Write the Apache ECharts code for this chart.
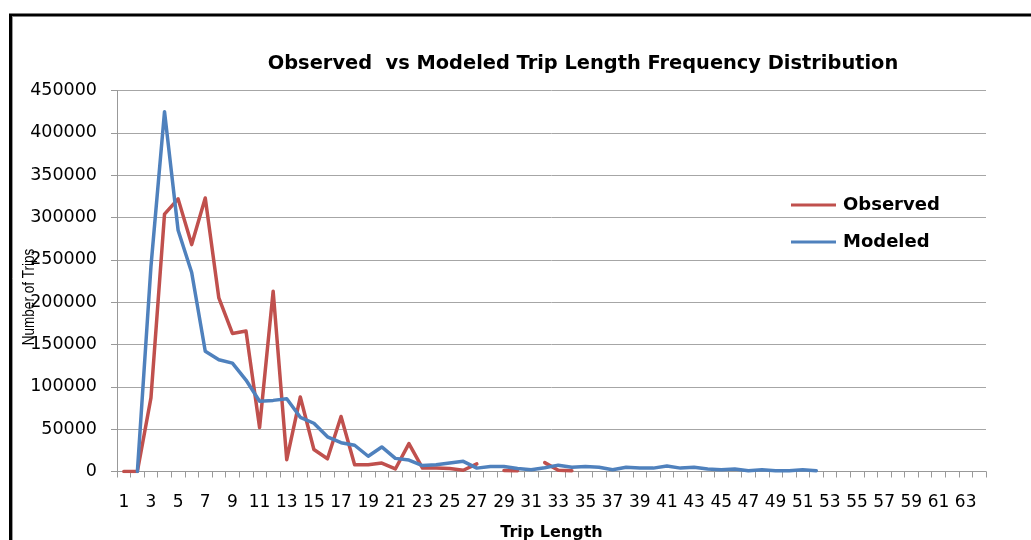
<!DOCTYPE html>
<html>
<head>
<meta charset="utf-8">
<script src="https://cdn.jsdelivr.net/npm/echarts@6/dist/echarts.min.js"></script>
<style>
  html, body { margin: 0; padding: 0; background: #fff; }
  #chart { width: 1031px; height: 540px; }
</style>
</head>
<body>
<div id="chart"></div>
<script>
// Trip length bins (miles)
const tripLength = ['1','2','3','4','5','6','7','8','9','10','11','12','13','14','15','16',
  '17','18','19','20','21','22','23','24','25','26','27','28','29','30','31','32',
  '33','34','35','36','37','38','39','40','41','42','43','44','45','46','47','48',
  '49','50','51','52','53','54','55','56','57','58','59','60','61','62','63','64'];

// Observed trips per bin (survey); empty bins are left as gaps
const observed = [0, 0, 87000, 304000, 322000, 268000, 323000, 205000,
  163000, 166000, 52000, 213000, 14000, 88000, 26000, 15000,
  65000, 8000, 8000, 10000, 3000, 33000, 4000, 4000,
  3500, 1500, 9000, null, 1200, 1000, null, 10500,
  1500, 1000, null, null, null, null, null, null,
  null, null, null, null, null, null, null, null,
  null, null, null, null, null, null, null, null,
  null, null, null, null, null, null, null, null];

// Modeled trips per bin
const modeled = [null, 0, 242000, 425000, 285000, 235000, 142000, 132000,
  128000, 108000, 83000, 84000, 86000, 64000, 57000, 41000,
  34000, 31000, 18000, 29000, 15500, 13500, 7000, 8000,
  10000, 12000, 4000, 6000, 6000, 3500, 2000, 4500,
  7500, 5000, 6000, 5000, 2000, 5000, 4000, 4000,
  6500, 4000, 5000, 3000, 2000, 3000, 1000, 2000,
  1000, 1000, 2000, 1000, null, null, null, null,
  null, null, null, null, null, null, null, null];

const yMax = 450000;
const yStep = 50000;

const chart = echarts.init(document.getElementById('chart'), null, { renderer: 'canvas' });

const axisGray = '#999999';
const gridGray = '#a6a6a6';

chart.setOption({
  backgroundColor: '#ffffff',
  animation: false,
  title: {
    text: 'Observed  vs Modeled Trip Length Frequency Distribution',
    left: 578,
    textAlign: 'center',
    top: 49,
    textStyle: { fontFamily: 'DejaVu Sans', fontWeight: 'bold', fontSize: 19.4, color: '#000' }
  },
  legend: {
    orient: 'vertical',
    left: 786,
    top: 191,
    itemGap: 19,
    itemWidth: 45,
    itemHeight: 3,
    icon: 'rect',
    textStyle: { fontFamily: 'DejaVu Sans', fontWeight: 'bold', fontSize: 18, color: '#000', padding: [0, 0, 0, 2] },
    data: ['Observed', 'Modeled']
  },
  grid: {
    left: 117, right: 45, top: 90.5, bottom: 68.5,
    containLabel: false,
    outerBoundsMode: 'none'
  },
  xAxis: {
    type: 'category',
    data: tripLength,
    boundaryGap: true,
    name: 'Trip Length',
    nameLocation: 'middle',
    nameGap: 53.5,
    nameTextStyle: { fontFamily: 'DejaVu Sans', fontWeight: 'bold', fontSize: 16, color: '#000' },
    axisLine: { show: true, lineStyle: { color: axisGray, width: 1 } },
    axisTick: { show: true, interval: 0, length: 6, lineStyle: { color: axisGray } },
    axisLabel: { interval: 1, margin: 22.5, fontFamily: 'DejaVu Sans', fontSize: 17, color: '#000' },
    splitLine: { show: false }
  },
  yAxis: {
    type: 'value',
    min: 0,
    max: yMax,
    interval: yStep,
    axisLine: { show: true, lineStyle: { color: axisGray, width: 1 } },
    axisTick: { show: true, length: 6, lineStyle: { color: axisGray } },
    axisLabel: {
      margin: 20,
      fontFamily: 'DejaVu Sans',
      fontSize: 17.5,
      color: '#000',
      formatter: v => String(v)
    },
    splitLine: { show: true, lineStyle: { color: gridGray, width: 1 } }
  },
  series: [
    {
      name: 'Observed',
      type: 'line',
      data: observed,
      showSymbol: false,
      symbol: 'none',
      connectNulls: false,
      lineStyle: { color: '#c0504d', width: 3.5, join: 'round', cap: 'round' },
      itemStyle: { color: '#c0504d' },
      z: 2
    },
    {
      name: 'Modeled',
      type: 'line',
      data: modeled,
      showSymbol: false,
      symbol: 'none',
      connectNulls: false,
      lineStyle: { color: '#4f81bd', width: 3.5, join: 'round', cap: 'round' },
      itemStyle: { color: '#4f81bd' },
      z: 3
    }
  ],
  graphic: [
    {
      // vertical axis title, drawn over the tick labels
      type: 'text',
      silent: true,
      x: 30,
      y: 297,
      rotation: Math.PI / 2,
      scaleY: 1.2,
      style: {
        text: 'Number of Trips',
        fontFamily: 'Liberation Sans',
        fontSize: 13.5,
        fill: '#000',
        align: 'center',
        verticalAlign: 'middle'
      },
      z: 50
    },
    {
      type: 'rect',
      silent: true,
      shape: { x: 10.5, y: 15, width: 1200, height: 700 },
      style: { fill: 'none', stroke: '#000', lineWidth: 3 },
      z: 100
    },
    {
      type: 'line',
      silent: true,
      shape: { x1: 12.5, y1: 16.5, x2: 12.5, y2: 540 },
      style: { stroke: '#9a9a9a', lineWidth: 1 },
      z: 100
    }
  ]
});
</script>
</body>
</html>
